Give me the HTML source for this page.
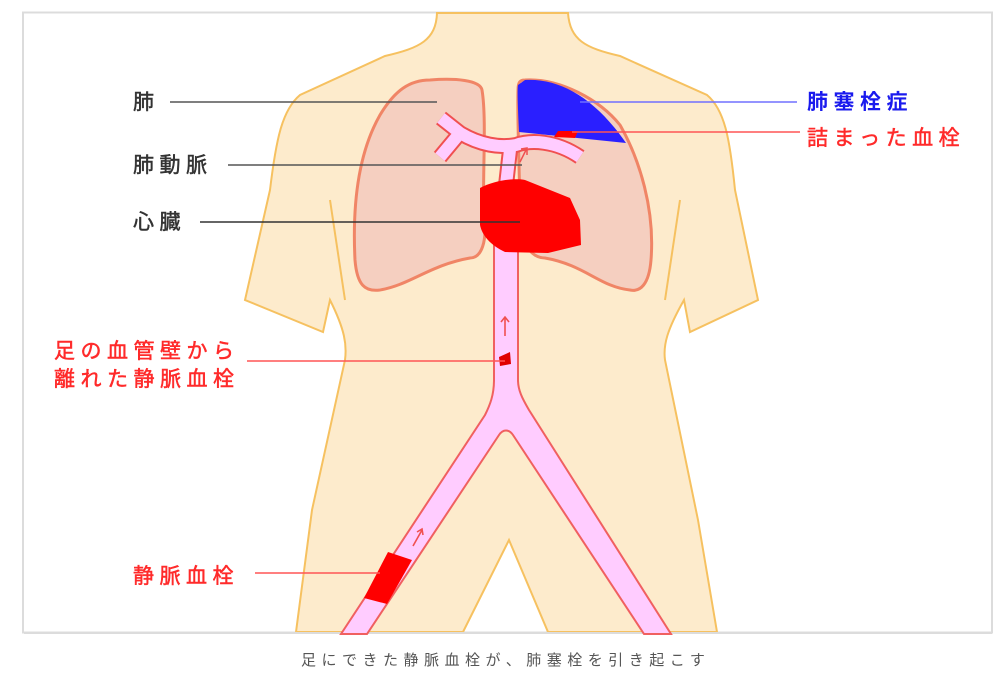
<!DOCTYPE html>
<html><head><meta charset="utf-8"><style>
body{margin:0;background:#fff;width:999px;height:682px;overflow:hidden}
svg{display:block}
text{font-family:"Liberation Sans","Noto Sans CJK JP",sans-serif}
</style></head><body>
<svg width="999" height="682" viewBox="0 0 999 682" xmlns="http://www.w3.org/2000/svg">
<rect x="23" y="12.5" width="969" height="620" fill="#fff" stroke="#dcdcdc" stroke-width="2"/>
<!-- body -->
<path d="M437,13 C436,40 420,48 385,56 L300,95 C282,110 276,140 270,190 L245,300 L323,332 L330,300 C345,330 347,345 345,360 L312,510 L296,632 L463,632 L509,540 L548,632 L717,632 L698,520 L665,360 C663,345 667,330 684,300 L690,332 L758,300 L735,190 C730,140 725,110 707,95 L620,56 C585,48 570,40 568,13 Z" fill="#fdebcc" stroke="#f6c160" stroke-width="2"/>
<path d="M330,200 L345,300" stroke="#f6c160" stroke-width="2" fill="none"/>
<path d="M680,200 L665,300" stroke="#f6c160" stroke-width="2" fill="none"/>
<rect x="24" y="632" width="968" height="2" fill="#dcdcdc"/>
<!-- lungs -->
<path d="M430,80 C410,80 395,90 380,115 C360,150 352,200 355,260 C357,285 365,292 380,290 C410,285 430,265 470,258 C482,258 487,240 484,220 C482,180 487,120 482,90 C480,80 455,78 430,80 Z" fill="#f5cfc0" stroke="#f08566" stroke-width="3"/>
<path d="M525,80 C560,78 600,100 620,125 C640,160 655,210 651,260 C649,285 640,292 630,290 C600,287 585,265 545,258 C530,258 520,240 520,220 C520,180 517,120 518,90 C518,82 520,80 525,80 Z" fill="#f5cfc0" stroke="#f08566" stroke-width="3"/>
<path d="M525,80 C560,78 595,98 626,143 L519,132 C518,110 517,90 518,85 Z" fill="#2a1fff"/>
<!-- pulmonary artery -->
<g fill="none" stroke-linejoin="round" stroke-linecap="butt">
<path d="M506,185 L510,150 M441,118 L460,133 C480,145 500,148 516,145 C530,140 555,140 580,157 M440,157 L460,133" stroke="#f05050" stroke-width="16"/>
<path d="M506,185 L510,150 M441,118 L460,133 C480,145 500,148 516,145 C530,140 555,140 580,157 M440,157 L460,133" stroke="#ffccff" stroke-width="12"/>
</g>
<path d="M520,162 L527,148 M521,149 L527,148 L527,155" stroke="#f05050" stroke-width="1.5" fill="none"/>
<path d="M558,131 L578,131 L575,138 L554,137 Z" fill="#ff0000"/>
<!-- veins -->
<path d="M494,245 L494,380 C494,395 490,405 485,415 L341,634 L367,634 L499,435 C503,429 509,429 513,435 L644,634 L671,634 L529,410 C522,398 518,390 518,380 L518,245 Z" fill="#ffccff" stroke="#f06060" stroke-width="2"/>
<!-- heart -->
<path d="M480,188 C495,180 515,178 525,180 L570,198 L580,220 L581,245 L548,253 L505,252 C490,245 482,235 480,225 Z" fill="#ff0000"/>
<path d="M499,357 L510,352 L511,364 L500,366 Z" fill="#e00000"/>
<path d="M388,552 L412,560 L387,604 L364,598 Z" fill="#ff0000"/>
<g stroke="#f05050" stroke-width="1.6" fill="none">
<path d="M505,336 L505,318 M501,322 L505,317 L509,322"/>
<path d="M413,546 L422,530 M417,532 L422,529 L423,535"/>
</g>
<!-- label lines -->
<line x1="170" y1="102" x2="437" y2="102" stroke="#555" stroke-width="1.5"/>
<line x1="228" y1="165" x2="522" y2="165" stroke="#555" stroke-width="1.5"/>
<line x1="200" y1="222" x2="520" y2="222" stroke="#333" stroke-width="1.5"/>
<line x1="247" y1="361" x2="505" y2="361" stroke="#ff5555" stroke-width="1.5"/>
<line x1="255" y1="573" x2="380" y2="573" stroke="#ff5555" stroke-width="1.5"/>
<line x1="580" y1="102" x2="797" y2="102" stroke="#7070ff" stroke-width="1.5"/>
<line x1="572" y1="132" x2="800" y2="132" stroke="#ff5555" stroke-width="1.5"/>
<!-- labels -->
<g font-size="21" letter-spacing="5.5" stroke-width="0.5">
<text x="133" y="109" fill="#333" stroke="#333">肺</text>
<text x="133" y="172" fill="#333" stroke="#333">肺動脈</text>
<text x="133" y="229" fill="#333" stroke="#333">心臓</text>
<text x="54" y="358" fill="#ff2a2a" stroke="#ff2a2a">足の血管壁から</text>
<text x="54" y="386" fill="#ff2a2a" stroke="#ff2a2a">離れた静脈血栓</text>
<text x="133" y="583" fill="#ff2a2a" stroke="#ff2a2a">静脈血栓</text>
<text x="807" y="109" fill="#1a1aee" font-weight="bold">肺塞栓症</text>
<text x="807" y="145" fill="#ff2a2a" stroke="#ff2a2a">詰まった血栓</text>
</g>
<text x="301" y="665" font-size="15" fill="#555" letter-spacing="5.5">足にできた静脈血栓が、肺塞栓を引き起こす</text>
</svg>
</body></html>
